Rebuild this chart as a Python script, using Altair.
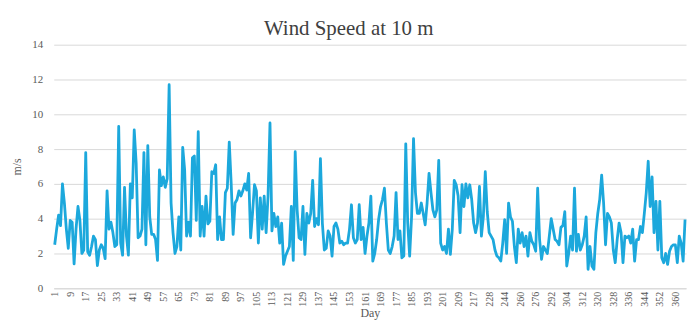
import altair as alt
import pandas as pd

# Daily wind speed (m/s), one value per category on the x axis
wind_speed = [
    2.5, 3.4, 4.2, 3.6, 6.0, 4.9, 3.4, 2.3, 3.9, 3.8,
    1.4, 3.4, 4.7, 3.9, 2.0, 2.2, 7.8, 2.1, 1.9, 2.4,
    3.0, 2.8, 1.3, 2.2, 2.5, 2.3, 1.7, 5.6, 3.4, 3.8,
    3.2, 2.4, 2.5, 9.3, 2.6, 1.9, 5.8, 3.0, 1.9, 6.0,
    5.2, 9.1, 7.2, 2.9, 3.0, 3.4, 7.8, 2.5, 8.2, 4.1,
    3.1, 3.1, 2.8, 1.6, 6.8, 5.9, 6.4, 5.8, 6.3, 11.7,
    4.9, 3.2, 2.0, 2.4, 4.1, 2.2, 8.1, 6.8, 3.0, 3.8,
    3.0, 7.5, 7.6, 3.9, 9.0, 3.0, 4.7, 3.0, 5.3, 3.7,
    3.85, 6.7, 6.6, 7.1, 2.8, 4.1, 2.8, 2.8, 5.5, 5.75,
    8.4, 6.0, 3.1, 4.9, 5.1, 5.6, 5.3, 5.6, 6.0, 5.65,
    6.6, 2.9, 4.3, 5.95, 5.6, 2.6, 5.2, 3.4, 5.3, 3.2,
    5.3, 9.5, 3.3, 4.3, 3.55, 4.1, 2.6, 3.75, 1.37, 1.85,
    2.13, 2.4, 4.7, 1.6, 7.85, 4.5, 2.9, 2.8, 4.7, 1.95,
    4.3, 3.75, 4.3, 6.2, 3.55, 4.0, 3.65, 7.45, 3.75, 2.2,
    2.3, 3.3, 3.0, 1.85, 3.55, 3.75, 3.4, 2.6, 2.7, 2.5,
    2.6, 2.6, 3.4, 4.8, 2.9, 2.6, 2.8, 4.8, 2.8, 3.5,
    2.0, 3.0, 3.75, 5.3, 1.56, 2.0, 2.8, 3.95, 4.7, 5.1,
    5.75, 3.75, 2.2, 2.0, 2.4, 3.0, 5.5, 2.8, 3.3, 1.75,
    1.85, 8.3, 3.75, 1.85, 4.1, 8.6, 5.5, 4.3, 4.3, 4.9,
    4.3, 3.65, 4.9, 6.6, 5.5, 4.5, 4.1, 4.5, 7.35, 2.6,
    2.2, 2.4, 2.0, 3.4, 1.95, 3.4, 6.2, 5.95, 5.3, 3.2,
    5.95, 4.7, 6.0, 5.2, 5.95, 5.1, 3.75, 3.2, 3.75, 5.85,
    3.0, 4.1, 6.7, 4.4, 3.2, 3.0, 2.8, 2.2, 1.85, 1.75,
    1.56, 2.6, 3.95, 2.0, 4.9, 4.1, 3.85, 2.4, 1.47, 3.4,
    2.6, 3.2, 2.4, 3.0, 1.85, 3.2, 2.7, 2.5, 2.13, 5.75,
    2.8, 1.66, 2.4, 2.2, 2.0, 3.0, 4.0, 3.4, 2.8, 2.7,
    2.5, 3.5, 3.6, 4.4, 1.28, 2.0, 3.0, 2.2, 5.75, 2.13,
    3.1, 2.2, 2.5, 3.0, 4.1, 1.09, 2.4, 1.28, 1.09, 3.2,
    4.3, 5.1, 6.5, 4.9, 2.5, 4.3, 4.1, 3.75, 2.2, 1.47,
    2.8, 3.75, 3.2, 1.47, 3.0, 2.9, 3.0, 2.6, 3.4, 1.56,
    2.8, 2.8, 3.55, 3.2, 4.3, 5.5, 7.3, 4.7, 6.4, 3.2,
    5.0, 2.2, 5.0, 1.75, 1.47, 2.0, 1.37, 2.13, 2.4, 2.5,
    2.5, 1.47, 3.0, 2.6, 1.56, 3.95,
]

# Category labels shown on the x axis (every 8th category)
day_labels = [
    "1", "9", "17", "25", "33", "41", "49", "57", "65", "73", "81", "89",
    "97", "105", "113", "121", "129", "137", "145", "153", "161", "169",
    "177", "185", "193", "201", "209", "217", "228", "244", "260", "276",
    "292", "304", "312", "320", "328", "336", "344", "352", "360",
]
label_step = 8
tick_positions = [i * label_step for i in range(len(day_labels))]

y_ticks = [0, 2, 4, 6, 8, 10, 12, 14]

df = pd.DataFrame({"idx": list(range(len(wind_speed))), "speed": wind_speed})

label_expr = (
    "[" + ",".join("'" + t + "'" for t in day_labels) + "]"
    + "[round(datum.value / " + str(label_step) + ")]"
)

FONT = "Liberation Serif"
GRID = "#d9d9d9"
TXT = "#595959"

chart = (
    alt.Chart(df)
    .mark_line(color="#1CA8DC", strokeWidth=2.8, strokeJoin="round")
    .encode(
        x=alt.X(
            "idx:Q",
            scale=alt.Scale(domain=[-0.5, len(wind_speed) - 0.5], nice=False, zero=False),
            axis=alt.Axis(
                values=tick_positions,
                labelExpr=label_expr,
                labelAngle=-90,
                labelAlign="right",
                labelBaseline="middle",
                labelPadding=3,
                labelOverlap=False,
                labelFont=FONT,
                labelFontSize=10,
                labelColor=TXT,
                ticks=False,
                grid=False,
                domain=True,
                domainColor=GRID,
                domainWidth=1,
                title="Day",
                titleFont=FONT,
                titleFontSize=12,
                titleFontWeight="normal",
                titleColor=TXT,
                titlePadding=1,
            ),
        ),
        y=alt.Y(
            "speed:Q",
            scale=alt.Scale(domain=[0, 14], nice=False),
            axis=alt.Axis(
                values=y_ticks,
                grid=True,
                gridColor=GRID,
                gridWidth=1,
                domain=False,
                ticks=False,
                labelFont=FONT,
                labelFontSize=11,
                labelColor=TXT,
                labelPadding=11,
                title="m/s",
                titleFont=FONT,
                titleFontSize=12,
                titleFontWeight="normal",
                titleColor=TXT,
                titlePadding=8,
            ),
        ),
    )
    .properties(
        width=636,
        height=245,
        title=alt.Title(
            "Wind Speed at 10 m",
            font=FONT,
            fontSize=21,
            fontWeight="normal",
            color="#404040",
            anchor="middle",
            frame="bounds",
            offset=4,
            dy=4,
        ),
        padding={"left": 46, "top": 36, "right": 5, "bottom": 32},
        autosize=alt.AutoSizeParams(type="none"),
    )
    .configure_view(stroke=None)
)

chart.save("out.html", embed_options={"renderer": "svg", "actions": False})
